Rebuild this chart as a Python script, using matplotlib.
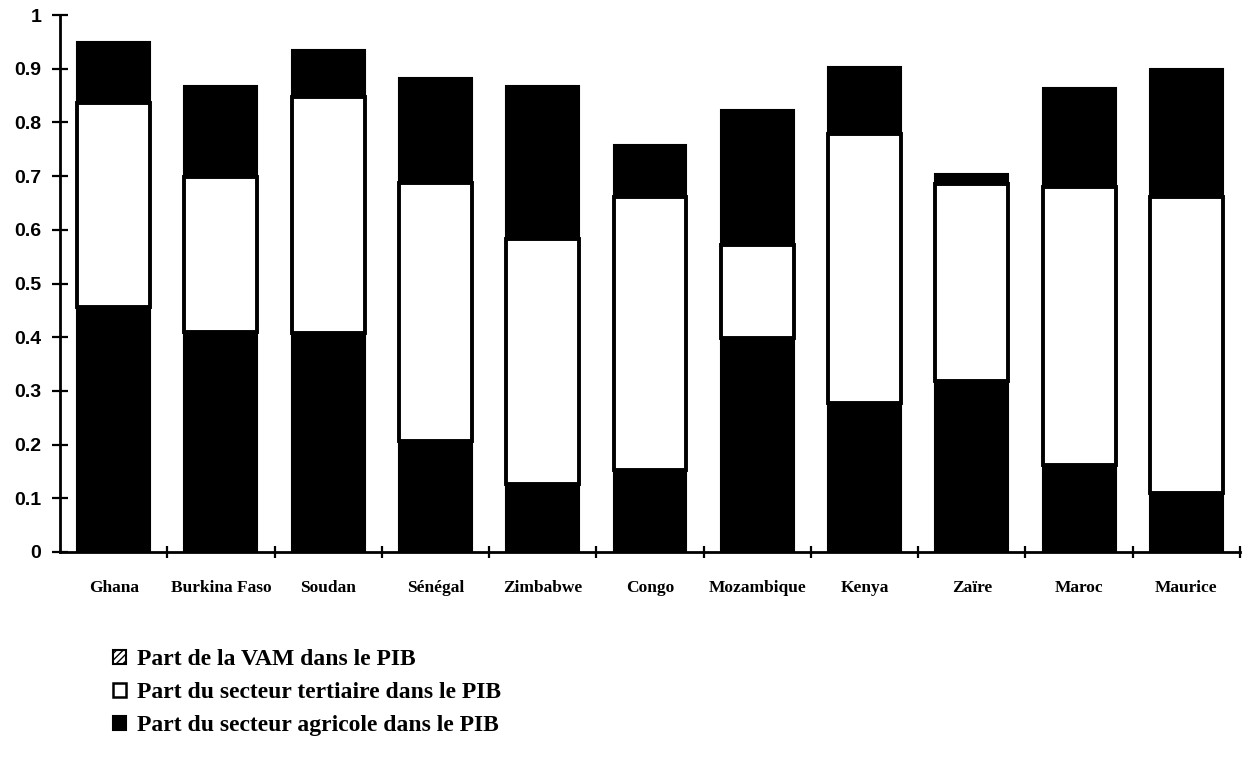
import matplotlib
matplotlib.use("Agg")
import matplotlib.pyplot as plt
from matplotlib.patches import Patch
from matplotlib.ticker import FixedLocator
import numpy as np

# Shares of GDP by sector, per country
pays = ["Ghana", "Burkina Faso", "Soudan", "Sénégal", "Zimbabwe", "Congo",
        "Mozambique", "Kenya", "Zaïre", "Maroc", "Maurice"]
agricole = [0.457, 0.409, 0.407, 0.207, 0.127, 0.152, 0.398, 0.277, 0.318, 0.162, 0.109]
tertiaire = [0.379, 0.290, 0.440, 0.480, 0.456, 0.509, 0.173, 0.501, 0.367, 0.518, 0.552]
vam = [0.113, 0.169, 0.088, 0.196, 0.285, 0.096, 0.253, 0.125, 0.018, 0.184, 0.238]
yticks = [0, 0.1, 0.2, 0.3, 0.4, 0.5, 0.6, 0.7, 0.8, 0.9, 1]

lab_vam = "Part de la VAM dans le PIB"
lab_ter = "Part du secteur tertiaire dans le PIB"
lab_agr = "Part du secteur agricole dans le PIB"

fig = plt.figure(figsize=(12.48, 7.72), dpi=100)
ax = fig.add_axes([60 / 1248, 1 - 552 / 772, 1180 / 1248, 537 / 772])

x = np.arange(len(pays))
w = 0.68
agr = np.array(agricole)
ter = np.array(tertiaire)
va = np.array(vam)

ax.bar(x, agr, w, color="black", edgecolor="black", linewidth=1.5)
ax.bar(x, ter, w, bottom=agr, color="white", edgecolor="black", linewidth=2.8)
ax.bar(x, va, w, bottom=agr + ter, color="black", edgecolor="black", linewidth=1.5)

ax.set_xlim(-0.5, len(pays) - 0.5)
ax.set_ylim(0, 1)

ax.set_yticks(yticks)
ax.set_yticklabels([f"{v:g}" for v in yticks])

ax.set_xticks(x)
ax.set_xticklabels(pays)
ax.xaxis.set_minor_locator(FixedLocator(np.arange(0.5, len(pays), 1.0)))

for s in ("top", "right"):
    ax.spines[s].set_visible(False)
for s in ("left", "bottom"):
    ax.spines[s].set_linewidth(2)

ax.tick_params(axis="y", direction="inout", length=11, width=1.6, pad=8,
               labelsize=14)
ax.tick_params(axis="x", which="major", length=0, pad=20, labelsize=12.5)
ax.tick_params(axis="x", which="minor", direction="inout", length=8, width=1.6)

for t in ax.get_yticklabels():
    t.set_fontfamily("Liberation Sans")
    t.set_fontweight("bold")
for t in ax.get_xticklabels():
    t.set_fontfamily("Liberation Serif")
    t.set_fontweight("bold")

handles = [
    Patch(facecolor="white", edgecolor="black", hatch="/////", linewidth=1.5),
    Patch(facecolor="white", edgecolor="black", linewidth=1.8),
    Patch(facecolor="black", edgecolor="black", linewidth=1.5),
]
fig.legend(handles, [lab_vam, lab_ter, lab_agr], loc="upper left",
           bbox_to_anchor=(104 / 1248, 1 - 640 / 772), frameon=False,
           borderaxespad=0, handlelength=0.55, handleheight=0.55,
           handletextpad=0.45, labelspacing=0.5,
           prop={"family": "Liberation Serif", "weight": "bold", "size": 17})

fig.savefig("out.png", dpi=100, facecolor="white")
